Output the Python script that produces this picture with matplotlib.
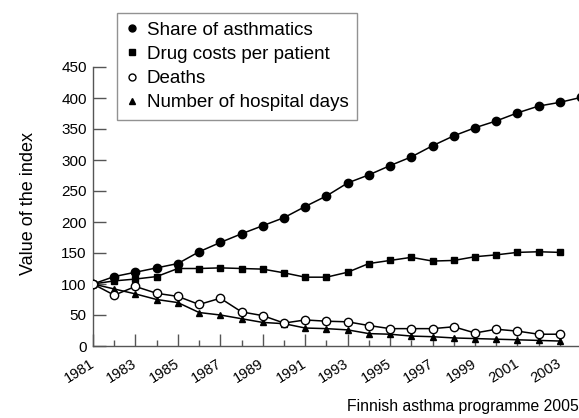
import matplotlib.pyplot as plt
from matplotlib.lines import Line2D
from matplotlib.ticker import MultipleLocator

plt.rcParams['font.family'] = ['Liberation Sans', 'DejaVu Sans']

# Data (index, 1981 = 100)
years = list(range(1981, 2004))
share_years = list(range(1981, 2005))
share = [100, 112, 119, 126, 133, 152, 167, 181, 194, 207, 225, 242, 263, 276,
         291, 305, 323, 339, 352, 363, 376, 387, 393, 401]
drug = [100, 105, 108, 112, 125, 125, 126, 125, 124, 118, 111, 111, 119, 133,
        138, 143, 137, 138, 144, 147, 151, 152, 151]
deaths = [100, 82, 96, 85, 80, 67, 77, 55, 49, 37, 42, 40, 39, 33,
          28, 28, 28, 31, 21, 27, 24, 19, 19]
hosp = [100, 92, 84, 75, 70, 54, 50, 44, 38, 36, 29, 28, 26, 20,
        19, 16, 15, 13, 12, 11, 10, 9, 8]
labels = ['Share of asthmatics', 'Drug costs per patient', 'Deaths',
          'Number of hospital days']

fig = plt.figure(figsize=(5.79, 4.18), dpi=100)
ax = fig.add_axes([93 / 579, 1 - 346 / 418, 1 - 93 / 579, (346 - 67) / 418])

lw = 1.1
ax.plot(years, hosp, color='black', lw=lw, marker='^', ms=5, zorder=3)
ax.plot(years, deaths, color='black', lw=lw, marker='o', ms=6,
        mfc='white', mec='black', mew=1.0, zorder=4)
ax.plot(years, drug, color='black', lw=lw, marker='s', ms=4.8, zorder=3)
ax.plot(share_years, share, color='black', lw=lw, marker='o', ms=6, zorder=3)

ax.set_xlim(1981, 2003.9)
ax.set_ylim(0, 450)
ax.yaxis.set_major_locator(MultipleLocator(50))
ax.set_xticks(years[::2])
ax.set_xticks(years[1::2], minor=True)
ax.set_xticklabels([str(y) for y in years[::2]], rotation=32, ha='right',
                   va='center', rotation_mode='anchor')

for s in ['top', 'right']:
    ax.spines[s].set_visible(False)
for s in ['left', 'bottom']:
    ax.spines[s].set_color('#555555')
    ax.spines[s].set_linewidth(1.0)

ax.tick_params(axis='y', direction='in', length=9, width=1.0, color='#555555',
               labelsize=11, pad=4.5)
ax.tick_params(axis='x', which='major', direction='in', length=9, width=1.0,
               color='#555555', labelsize=10.5, pad=11.5)
ax.tick_params(axis='x', which='minor', direction='in', length=4.5, width=1.0,
               color='#555555')

ax.set_ylabel('Value of the index', fontsize=13)
ax.yaxis.set_label_coords(-0.116, 0.51)

handles = [
    Line2D([], [], ls='none', marker='o', color='black', ms=5),
    Line2D([], [], ls='none', marker='s', color='black', ms=4.5),
    Line2D([], [], ls='none', marker='o', mfc='white', mec='black', ms=5),
    Line2D([], [], ls='none', marker='^', color='black', ms=4.5),
]
leg = ax.legend(handles, labels, loc='upper left',
                bbox_to_anchor=(117 / 579, 1 - 13 / 418),
                bbox_transform=fig.transFigure, borderaxespad=0,
                fontsize=13.5, frameon=True, fancybox=False, handlelength=0.7,
                handletextpad=0.45, labelspacing=0.38, borderpad=0.45)
leg.get_frame().set_edgecolor('#777777')
leg.get_frame().set_linewidth(1.0)

fig.text(0.999, 1 - 406 / 418, 'Finnish asthma programme 2005',
         ha='right', va='center', fontsize=11.3)

fig.savefig('out.png', dpi=100)
